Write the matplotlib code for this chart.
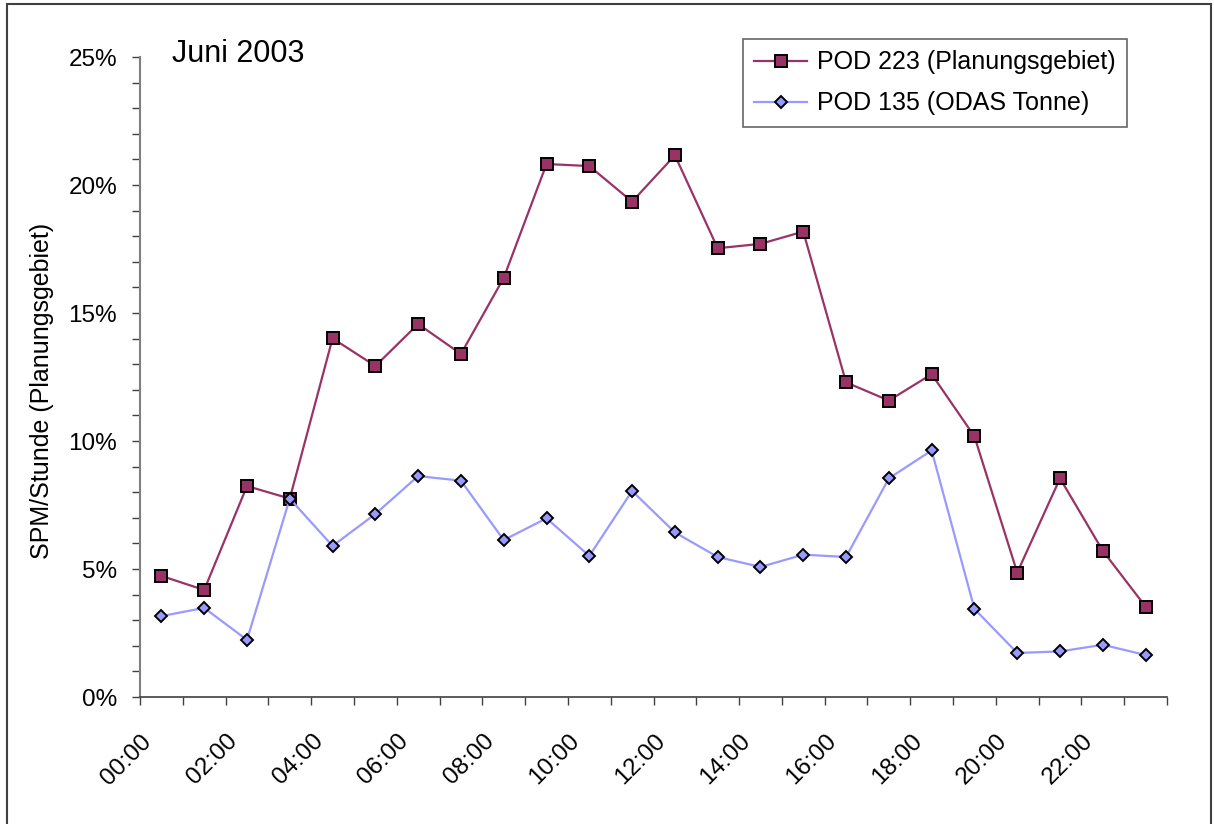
import matplotlib
matplotlib.use("Agg")
import matplotlib.pyplot as plt
from matplotlib.ticker import MultipleLocator, FuncFormatter
from matplotlib.patches import Rectangle
from matplotlib.transforms import ScaledTranslation

plt.rcParams['font.family'] = ['Liberation Sans', 'DejaVu Sans']

hours = ["00:00", "01:00", "02:00", "03:00", "04:00", "05:00", "06:00", "07:00",
         "08:00", "09:00", "10:00", "11:00", "12:00", "13:00", "14:00", "15:00",
         "16:00", "17:00", "18:00", "19:00", "20:00", "21:00", "22:00", "23:00"]
pod223 = [4.73, 4.18, 8.24, 7.75, 14.01, 12.93, 14.57, 13.40, 16.37, 20.82, 20.74, 19.35,
          21.16, 17.53, 17.70, 18.18, 12.29, 11.58, 12.61, 10.18, 4.86, 8.54, 5.71, 3.53]
pod135 = [3.16, 3.48, 2.23, 7.75, 5.90, 7.15, 8.63, 8.45, 6.13, 6.98, 5.51, 8.05,
          6.43, 5.47, 5.08, 5.56, 5.47, 8.54, 9.63, 3.44, 1.72, 1.78, 2.04, 1.64]
label223 = "POD 223 (Planungsgebiet)"
label135 = "POD 135 (ODAS Tonne)"
title = "Juni 2003"
ylabel = "SPM/Stunde (Planungsgebiet)"

W, H = 1214, 824
fig = plt.figure(figsize=(W / 100, H / 100), dpi=100)
ax = fig.add_axes([140 / W, 1 - 697 / H, (1167 - 140) / W, (697 - 57) / H])

xs = [i + 0.5 for i in range(len(hours))]
l1, = ax.plot(xs, pod223, color="#993366", lw=1.6, marker="s", markersize=8,
              markerfacecolor="#993366", markeredgecolor="black", markeredgewidth=1.4,
              label=label223, zorder=3)
l2, = ax.plot(xs, pod135, color="#9999FF", lw=1.6, marker="D", markersize=6.2,
              markerfacecolor="#9999FF", markeredgecolor="black", markeredgewidth=1.4,
              label=label135, zorder=4)

ax.set_xlim(0, 24)
ax.set_ylim(0, 25)
ax.yaxis.set_major_locator(MultipleLocator(5))
ax.yaxis.set_minor_locator(MultipleLocator(1))
ax.yaxis.set_major_formatter(FuncFormatter(lambda v, p: f"{int(round(v))}%"))
ax.set_xticks(range(0, 25))
ax.set_xticklabels([hours[i] if (i < 24 and i % 2 == 0) else "" for i in range(25)],
                   rotation=45, ha="right", va="center", rotation_mode="anchor")

for s in ["top", "right"]:
    ax.spines[s].set_visible(False)
ax.spines["left"].set_color("#808080")
ax.spines["left"].set_linewidth(1.5)
ax.spines["bottom"].set_color("#404040")
ax.spines["bottom"].set_linewidth(1.2)

ax.tick_params(axis="y", which="both", direction="out", length=5.5, width=1.0,
               color="#404040", labelsize=17.5, pad=11)
ax.tick_params(axis="x", which="both", direction="out", length=5.5, width=1.0,
               color="#404040", labelsize=17.5, pad=24)
offset = ScaledTranslation(6 / 72, 0, fig.dpi_scale_trans)
for lab in ax.get_xticklabels():
    lab.set_transform(lab.get_transform() + offset)

ax.text(172 / W, 1 - 54 / H, title, transform=fig.transFigure, fontsize=22,
        ha="left", va="center")
fig.text(42 / W, 1 - 391 / H, ylabel, rotation=90, fontsize=18, ha="center", va="center")

leg = ax.legend(handles=[l1, l2], loc="upper left",
                bbox_to_anchor=((743 - 140) / (1167 - 140), (697 - 39) / (697 - 57)),
                fontsize=18, frameon=True, fancybox=False, borderpad=0.45,
                handlelength=2.1, handletextpad=0.4, labelspacing=0.68, borderaxespad=0)
leg.get_frame().set_edgecolor("#404040")
leg.get_frame().set_linewidth(1.2)

fig.patches.append(Rectangle((7 / W, -0.02), (1211 - 7) / W, 1.02 - 4 / H,
                             transform=fig.transFigure,
                             fill=False, edgecolor="#404040", linewidth=1.5))

fig.savefig("out.png", dpi=100)
